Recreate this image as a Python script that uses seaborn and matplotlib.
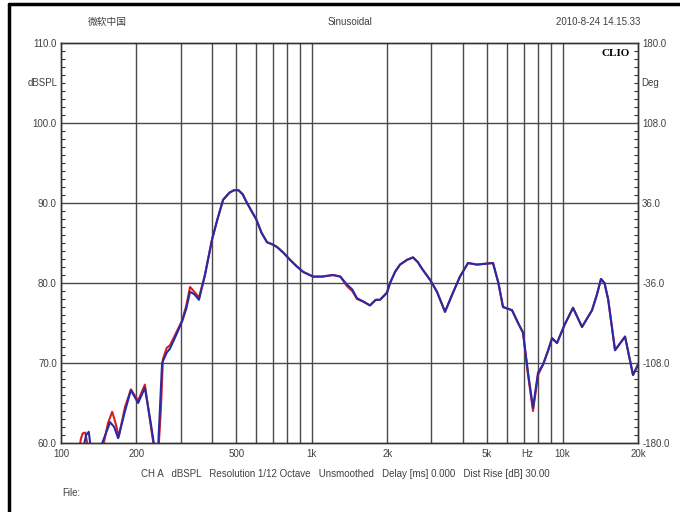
import numpy as np
import pandas as pd
import matplotlib
matplotlib.use("Agg")
import matplotlib.pyplot as plt
from matplotlib.ticker import FixedLocator, NullFormatter
import seaborn as sns

# ----------------------------
# Response data (Hz, dBSPL)
# ----------------------------
blue_freq = [118, 123, 126, 129, 132, 138, 146, 157, 163, 169, 180, 190, 203,
             216, 228, 237, 244, 253, 264, 272, 288, 304, 316, 327, 340, 355,
             375, 400, 420, 443, 470, 490, 510, 530, 552, 575, 600, 630, 663,
             700, 727, 770, 819, 870, 923, 1012, 1100, 1215, 1300, 1382, 1450,
             1515, 1600, 1707, 1800, 1872, 1996, 2052, 2150, 2249, 2400, 2534,
             2650, 2750, 2963, 3158, 3400, 3659, 3900, 4200, 4560, 4900, 5283,
             5550, 5790, 6290, 6650, 6958, 7286, 7627, 7987, 8361, 8750, 9083,
             9507, 10200, 11014, 11960, 13113, 13700, 14237, 14700, 15200,
             16196, 17755, 19107, 20000]
blue_db = [57.0, 59.5, 61.0, 61.4, 59.0, 55.0, 60.0, 62.6, 62.0, 60.6, 64.0,
           66.6, 65.0, 66.9, 62.5, 59.0, 59.5, 70.0, 71.3, 71.8, 73.5, 75.2,
           76.8, 78.9, 78.6, 77.9, 81.0, 85.4, 87.9, 90.4, 91.3, 91.6, 91.6,
           91.1, 90.0, 89.0, 88.0, 86.3, 85.1, 84.8, 84.5, 83.8, 82.9, 82.1,
           81.4, 80.8, 80.8, 81.0, 80.8, 79.8, 79.2, 78.1, 77.7, 77.2, 77.9,
           77.9, 78.8, 80.0, 81.4, 82.3, 82.9, 83.2, 82.6, 81.8, 80.4, 78.9,
           76.4, 78.8, 80.8, 82.5, 82.3, 82.4, 82.5, 80.0, 77.0, 76.6, 75.0,
           73.8, 68.8, 64.4, 68.8, 69.8, 71.5, 73.1, 72.5, 74.8, 76.9, 74.5,
           76.6, 78.5, 80.5, 80.0, 78.0, 71.6, 73.3, 68.5, 69.8]

red_freq = [116, 120, 122, 125, 128, 134, 147, 154, 160, 165, 170, 180, 190,
            203, 216, 226, 236, 244, 250, 255, 264, 272, 288, 304, 316, 327,
            340, 355, 375, 400, 420, 443, 470, 490, 510, 530, 552, 575, 600,
            630, 663, 700, 727, 770, 819, 870, 923, 1012, 1100, 1215, 1300,
            1382, 1450, 1515, 1600, 1707, 1800, 1872, 1996, 2052, 2150, 2249,
            2400, 2534, 2650, 2750, 2963, 3158, 3400, 3659, 3900, 4200, 4560,
            4900, 5283, 5550, 5790, 6290, 6650, 6958, 7286, 7627, 7987, 8361,
            8750, 9083, 9507, 10200, 11014, 11960, 13113, 13700, 14237, 14700,
            15200, 16196, 17755, 19107, 20000]
red_db = [57.5, 60.5, 61.2, 61.3, 59.5, 56.0, 59.5, 62.5, 63.9, 62.5, 60.8,
          64.5, 66.7, 65.3, 67.3, 63.0, 59.0, 58.5, 64.0, 70.5, 71.9, 72.2,
          73.8, 75.3, 77.2, 79.5, 78.9, 78.2, 81.0, 85.4, 87.9, 90.4, 91.3,
          91.6, 91.6, 91.1, 90.0, 89.0, 88.0, 86.3, 85.1, 84.8, 84.5, 83.8,
          82.9, 82.1, 81.4, 80.8, 80.8, 81.0, 80.8, 79.6, 79.0, 78.0, 77.7,
          77.2, 77.9, 77.9, 78.8, 80.0, 81.4, 82.3, 82.9, 83.2, 82.6, 81.8,
          80.4, 78.9, 76.4, 78.8, 80.8, 82.5, 82.3, 82.4, 82.5, 80.0, 77.0,
          76.6, 75.0, 73.8, 68.5, 64.0, 68.5, 69.8, 71.5, 73.1, 72.5, 74.8,
          76.9, 74.5, 76.6, 78.5, 80.5, 80.0, 78.0, 71.6, 73.3, 68.5, 69.8]

# axis ticks / labels
x_ticks = [100, 200, 500, 1000, 2000, 5000, 7200, 10000, 20000]
x_labels = ["100", "200", "500", "1k", "2k", "5k", "Hz", "10k", "20k"]
x_grid = [200, 300, 400, 500, 600, 700, 800, 900, 1000,
          2000, 3000, 4000, 5000, 6000, 7000, 8000, 9000, 10000]
left_ticks = [60, 70, 80, 90, 100, 110]
right_ticks = [-180, -108, -36, 36, 108, 180]

blue_df = pd.DataFrame({"freq": blue_freq, "db": blue_db})
red_df = pd.DataFrame({"freq": red_freq, "db": red_db})

sns.set_style("white")
plt.rcParams["font.family"] = ["Liberation Sans", "DejaVu Sans"]

text_col = "#404040"
grid_col = "#4a4a4a"

fig = plt.figure(figsize=(6.8, 5.12), dpi=100)
ax = fig.add_axes([61 / 680, 69 / 512, 577 / 680, 400 / 512])

sns.lineplot(data=red_df, x="freq", y="db", color="#d42020", lw=1.5, ax=ax)
sns.lineplot(data=blue_df, x="freq", y="db", color="#2a2aa8", lw=1.5, ax=ax)

ax.set_xscale("log")
ax.set_xlim(100, 20000)
ax.set_ylim(60, 110)
ax.set_xlabel("")
ax.set_ylabel("")

# grid
for f in x_grid:
    ax.axvline(f, color=grid_col, lw=1.0, zorder=0)
for v in [70, 80, 90, 100]:
    ax.axhline(v, color=grid_col, lw=1.0, zorder=0)

ax.xaxis.set_major_locator(FixedLocator(x_ticks))
ax.set_xticklabels(x_labels)
ax.xaxis.set_minor_locator(FixedLocator([]))
ax.xaxis.set_minor_formatter(NullFormatter())
ax.tick_params(axis="x", which="both", length=0, pad=4, labelsize=7,
               labelcolor=text_col)

ax.set_yticks(left_ticks)
ax.set_yticklabels([f"{v:.1f}" for v in left_ticks])
ax.yaxis.set_minor_locator(FixedLocator(np.arange(60, 111, 1)))
ax.tick_params(axis="y", which="major", length=0, pad=3, labelsize=7,
               labelcolor=text_col)
ax.tick_params(axis="y", which="minor", direction="in", length=3,
               width=0.8, color="#333333")

for s in ax.spines.values():
    s.set_color("#333333")
    s.set_linewidth(1.0)

ax2 = ax.twinx()
ax2.set_ylim(-180, 180)
ax2.set_yticks(right_ticks)
ax2.set_yticklabels([f"{v:.1f}" for v in right_ticks])
ax2.yaxis.set_minor_locator(FixedLocator(np.arange(-180, 181, 7.2)))
ax2.tick_params(axis="y", which="major", length=0, pad=3, labelsize=7,
                labelcolor=text_col)
ax2.tick_params(axis="y", which="minor", direction="in", length=3,
                width=0.8, color="#333333")
for s in ax2.spines.values():
    s.set_color("#333333")
    s.set_linewidth(1.0)

# axis unit labels
fig.text(58 / 680, 1 - 83 / 512, "dBSPL", ha="right", va="center",
         fontsize=7, color=text_col)
fig.text(641 / 680, 1 - 83 / 512, "Deg", ha="left", va="center",
         fontsize=7, color=text_col)
ax.text(0.985, 0.985, "CLIO", transform=ax.transAxes, ha="right", va="top",
        fontsize=8, fontweight="bold", family="Liberation Serif", color="black")

# header
fig.text(88 / 680, 1 - 22 / 512, "微软中国", ha="left", va="center", fontsize=7,
         color=text_col, family=["Noto Sans CJK SC", "DejaVu Sans"])
fig.text(350 / 680, 1 - 22 / 512, "Sinusoidal", ha="center", va="center",
         fontsize=7, color=text_col)
fig.text(640 / 680, 1 - 22 / 512, "2010-8-24 14.15.33", ha="right",
         va="center", fontsize=7, color=text_col)

# footer
fig.text(345 / 680, 1 - 474 / 512,
         "CH A   dBSPL   Resolution 1/12 Octave   Unsmoothed   "
         "Delay [ms] 0.000   Dist Rise [dB] 30.00",
         ha="center", va="center", fontsize=7, color=text_col)
fig.text(62 / 680, 1 - 493 / 512, "File:", ha="left", va="center",
         fontsize=7, color=text_col)

# outer frame (left and top edges visible)
fig.add_artist(plt.Line2D([9 / 680, 9 / 680], [0, 1 - 4 / 512],
                          transform=fig.transFigure, color="black", lw=2.5))
fig.add_artist(plt.Line2D([9 / 680, 1], [1 - 4 / 512, 1 - 4 / 512],
                          transform=fig.transFigure, color="black", lw=2.5))

fig.savefig("out.png", dpi=100)
